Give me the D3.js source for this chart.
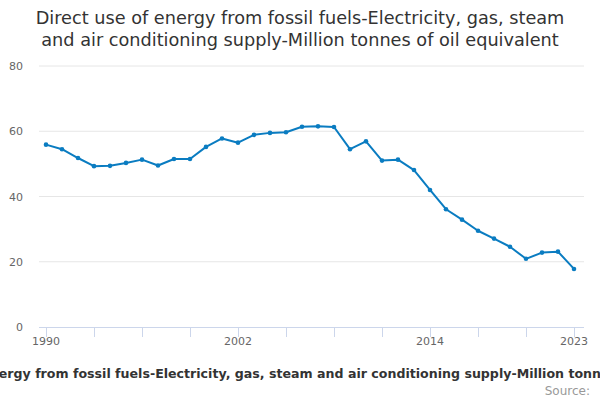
<!DOCTYPE html>
<html>
<head>
<meta charset="utf-8">
<script src="https://cdn.jsdelivr.net/npm/d3@7"></script>
<style>
  body { margin: 0; background: #fff; }
  svg { font-family: "DejaVu Sans", sans-serif; display: block; }
</style>
</head>
<body>
<div id="chart"></div>
<script>
// data
const years = d3.range(1990, 2024);
const values = [55.9, 54.5, 51.8, 49.3, 49.4, 50.3, 51.3, 49.5, 51.5, 51.5,
                55.2, 57.8, 56.5, 58.9, 59.5, 59.7, 61.4, 61.5, 61.3, 54.5,
                56.9, 51.0, 51.3, 48.1, 42.0, 36.1, 32.9, 29.5, 27.1, 24.6,
                20.9, 22.8, 23.1, 17.8];
const yTicks = [0, 20, 40, 60, 80];
const xLabels = [1990, 2002, 2014, 2023];
const xTicks = [1990, 1993, 1996, 1999, 2002, 2005, 2008, 2011, 2014, 2017, 2020, 2023];

const width = 600, height = 400;
const margin = { top: 66, right: 16, bottom: 73, left: 39 };

const svg = d3.select("#chart").append("svg")
    .attr("width", width)
    .attr("height", height);

// title
const title = svg.append("text")
    .attr("text-anchor", "middle")
    .style("font-size", "17.7px")
    .style("fill", "#333");
title.append("tspan").attr("x", 300).attr("y", 24)
    .text("Direct use of energy from fossil fuels-Electricity, gas, steam");
title.append("tspan").attr("x", 300).attr("y", 46)
    .text("and air conditioning supply-Million tonnes of oil equivalent");

const x = d3.scaleLinear()
    .domain([1990, 2023])
    .range([46, 574]);

const y = d3.scaleLinear()
    .domain([0, 80])
    .range([327, 66]);

// gridlines
svg.append("g")
    .selectAll("line")
    .data(yTicks.filter(d => d > 0))
    .join("line")
    .attr("x1", margin.left)
    .attr("x2", width - margin.right)
    .attr("y1", d => y(d))
    .attr("y2", d => y(d))
    .attr("stroke", "#e6e6e6");

// y labels
svg.append("g")
    .selectAll("text")
    .data(yTicks)
    .join("text")
    .attr("x", 23)
    .attr("y", d => y(d) + 4)
    .attr("text-anchor", "end")
    .style("font-size", "11px")
    .style("fill", "#666")
    .text(d => d);

// x axis
const xAxis = svg.append("g");
xAxis.append("line")
    .attr("x1", margin.left)
    .attr("x2", width - margin.right)
    .attr("y1", 327.5)
    .attr("y2", 327.5)
    .attr("stroke", "#ccd6eb");

xAxis.selectAll("line.tick")
    .data(xTicks)
    .join("line")
    .attr("class", "tick")
    .attr("x1", d => x(d) + 0.5)
    .attr("x2", d => x(d) + 0.5)
    .attr("y1", 327)
    .attr("y2", 337)
    .attr("stroke", "#ccd6eb");

xAxis.selectAll("text")
    .data(xLabels)
    .join("text")
    .attr("x", d => x(d))
    .attr("y", 345)
    .attr("text-anchor", "middle")
    .style("font-size", "11px")
    .style("fill", "#666")
    .text(d => d);

// line
const line = d3.line()
    .x((d, i) => x(years[i]))
    .y(d => y(d));

svg.append("path")
    .datum(values)
    .attr("d", line)
    .attr("fill", "none")
    .attr("stroke", "#0a7cc1")
    .attr("stroke-width", 2)
    .attr("stroke-linejoin", "round");

svg.append("g")
    .selectAll("circle")
    .data(values)
    .join("circle")
    .attr("cx", (d, i) => x(years[i]))
    .attr("cy", d => y(d))
    .attr("r", 2.3)
    .attr("fill", "#0a7cc1");

// axis title, centred on the plot area (overflows the page, as in the original)
svg.append("text")
    .attr("x", (margin.left + width - margin.right) / 2)
    .attr("y", 378)
    .attr("text-anchor", "middle")
    .style("font-size", "12.6px")
    .style("font-weight", "bold")
    .style("fill", "#333")
    .text("Direct use of energy from fossil fuels-Electricity, gas, steam and air conditioning supply-Million tonnes of oil equivalent");

// credits
svg.append("text")
    .attr("x", 590)
    .attr("y", 395)
    .attr("text-anchor", "end")
    .style("font-size", "12px")
    .style("fill", "#999")
    .text("Source:");
</script>
</body>
</html>
